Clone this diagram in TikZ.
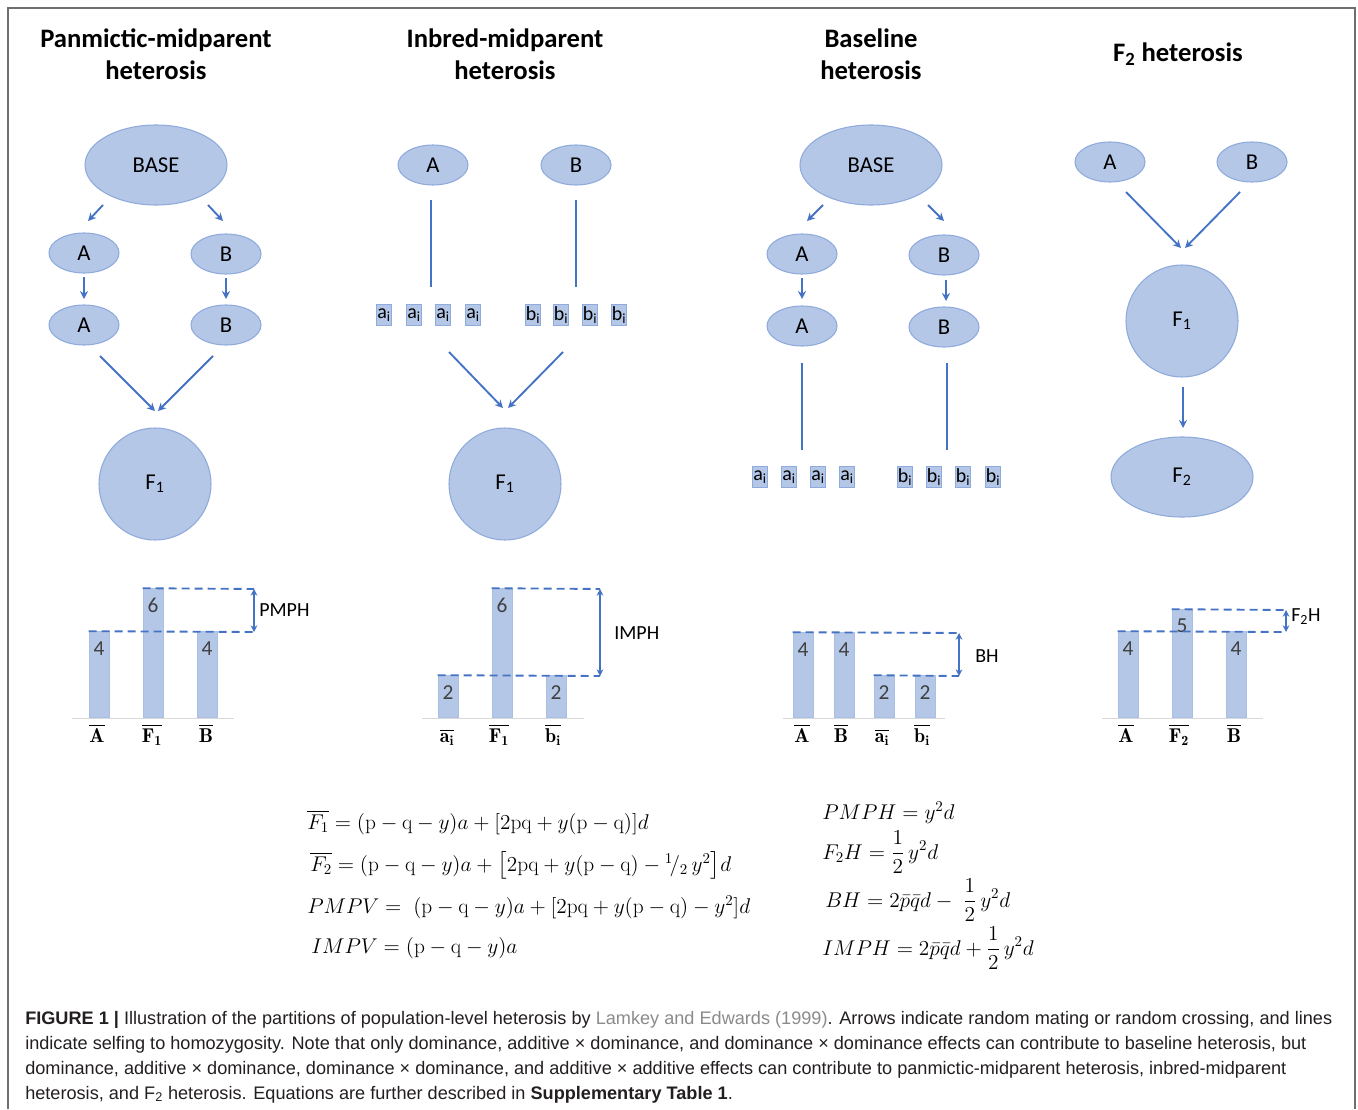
\documentclass[tikz,border=0pt]{standalone}
\usepackage{fix-cm}
\usepackage{amsmath}
\usepackage{fontspec}
\usetikzlibrary{shapes.geometric,arrows.meta,calc}
\newfontfamily\carlito{Carlito}
\newfontfamily\capfont{Liberation Sans}
\definecolor{ellF}{HTML}{B4C7E7}
\definecolor{ellB}{HTML}{8FAADC}
\definecolor{arrC}{HTML}{4472C4}
\definecolor{barB}{HTML}{A9BFE6}
\definecolor{numC}{HTML}{404040}
\definecolor{capC}{HTML}{231F20}
\definecolor{refC}{HTML}{8A8A8A}
\definecolor{frameC}{HTML}{6E6E6E}
\begin{document}
\begin{tikzpicture}[x=0.75pt,y=-0.75pt,
  lbl/.style={font=\carlito\fontsize{17}{20}\selectfont},
  ell/.style={ellipse,draw=ellB,fill=ellF,line width=0.8pt,inner sep=0pt,lbl},
  bigell/.style={ell,minimum width=106.5pt,minimum height=60pt},
  smell/.style={ell,minimum width=52.5pt,minimum height=30pt},
  circ/.style={circle,draw=ellB,fill=ellF,line width=0.8pt,inner sep=0pt,minimum size=84pt,lbl},
  arr/.style={draw=arrC,line width=1.4pt,-{Stealth[length=6pt,width=6pt]}},
  selfln/.style={draw=arrC,line width=1.4pt},
  ibox/.style={rectangle,draw=ellB,fill=ellF,line width=0.6pt,minimum width=11pt,minimum height=15.75pt,inner sep=0pt,font=\carlito\fontsize{15}{15}\selectfont},
  barn/.style={rectangle,fill=ellF,draw=barB,line width=0.6pt,minimum width=15pt,inner sep=0pt,anchor=south},
  num/.style={font=\carlito\fontsize{16}{16}\selectfont,text=numC,inner sep=0pt},
  blab/.style={font=\fontsize{15}{15}\selectfont,anchor=base,inner sep=0pt},
  hdash/.style={draw=arrC,line width=1.4pt,dash pattern=on 6pt off 3.75pt},
  darr/.style={draw=arrC,line width=1.1pt,{Stealth[length=5pt,width=5pt]}-{Stealth[length=5pt,width=5pt]}},
  axisln/.style={draw=black!15,line width=0.75pt},
  clab/.style={font=\carlito\fontsize{15}{15}\selectfont,anchor=west,inner sep=0pt},
  title/.style={font=\carlito\bfseries\fontsize{20}{24}\selectfont,align=center},
  eq/.style={font=\fontsize{16}{19}\selectfont,anchor=base west,inner sep=0pt},
  captxt/.style={font=\capfont\fontsize{13.6}{16}\selectfont,text=capC,anchor=base west,inner sep=0pt},
]
\useasboundingbox (0,0) rectangle (1358,1109);
\draw[frameC,line width=1pt] (8,1109) -- (8,8) -- (1355,8) -- (1355,1109);

% ---------- titles
\node[title] (t1) at (156,54) {Panmictic-midparent\\heterosis};
\node[title] (t2) at (505,54) {Inbred-midparent\\heterosis};
\node[title] (t3) at (871,54) {Baseline\\heterosis};
\node[title] (t4) at (1178,54) {F\textsubscript{2} heterosis};

% ---------- column 1
\node[bigell] (base1) at (156,165) {BASE};
\node[smell] (a1) at (84,253) {A};
\node[smell] (b1) at (226,254) {B};
\node[smell] (a1s) at (84,325) {A};
\node[smell] (b1s) at (226,325) {B};
\node[circ] (f1a) at (155,484) {F\textsubscript{1}};
\draw[arr] ($(base1)+(-53,40)$) -- ($(a1)+(4,-32)$);
\draw[arr] ($(base1)+(52,40)$) -- ($(b1)+(-3,-33)$);
\draw[arr] ($(a1)+(0,24)$) -- ($(a1s)+(0,-26)$);
\draw[arr] ($(b1)+(0,24)$) -- ($(b1s)+(0,-26)$);
\draw[arr] ($(a1s)+(16,31)$) -- ($(f1a)+(0,-73)$);
\draw[arr] ($(b1s)+(-13,31)$) -- ($(f1a)+(3,-73)$);

% ---------- column 2
\node[smell] (a2) at (433,165) {A};
\node[smell] (b2) at (576,165) {B};
\foreach \i/\xx in {1/384,2/414,3/443,4/473}{\node[ibox] (ai2\i) at (\xx,315) {a\textsubscript{i}};}
\foreach \i/\xx in {1/533,2/561,3/590,4/619}{\node[ibox] (bi2\i) at (\xx,315) {b\textsubscript{i}};}
\node[circ] (f1b) at (505,484) {F\textsubscript{1}};
\draw[selfln] ($(a2)+(-2,35)$) -- ($(a2)+(-2,122)$);
\draw[selfln] ($(b2)+(0,35)$) -- ($(b2)+(0,122)$);
\draw[arr] ($(f1b)+(-56,-132)$) -- ($(f1b)+(-2,-76)$);
\draw[arr] ($(f1b)+(58,-132)$) -- ($(f1b)+(3,-76)$);

% ---------- column 3
\node[bigell] (base3) at (871,165) {BASE};
\node[smell] (a3) at (802,254) {A};
\node[smell] (b3) at (944,255) {B};
\node[smell] (a3s) at (802,326) {A};
\node[smell] (b3s) at (944,327) {B};
\foreach \i/\xx in {1/760,2/789,3/818,4/847}{\node[ibox] (ai3\i) at (\xx,477) {a\textsubscript{i}};}
\foreach \i/\xx in {1/905,2/934,3/963,4/993}{\node[ibox] (bi3\i) at (\xx,477) {b\textsubscript{i}};}
\draw[arr] ($(base3)+(-48,40)$) -- ($(a3)+(5,-33)$);
\draw[arr] ($(base3)+(57,40)$) -- ($(b3)+(0,-34)$);
\draw[arr] ($(a3)+(0,24)$) -- ($(a3s)+(0,-27)$);
\draw[arr] ($(b3)+(2,25)$) -- ($(b3s)+(2,-26)$);
\draw[selfln] ($(a3s)+(0,37)$) -- ($(a3s)+(0,124)$);
\draw[selfln] ($(b3s)+(3,36)$) -- ($(b3s)+(3,123)$);

% ---------- column 4
\node[smell] (a4) at (1110,162) {A};
\node[smell] (b4) at (1252,162) {B};
\node[circ] (f1d) at (1182,321) {F\textsubscript{1}};
\node[bigell] (f2d) at (1182,477) {F\textsubscript{2}};
\draw[arr] ($(a4)+(16,30)$) -- ($(f1d)+(-1,-73)$);
\draw[arr] ($(b4)+(-12,30)$) -- ($(f1d)+(3,-73)$);
\draw[arr] ($(f1d)+(1,66)$) -- ($(f2d)+(1,-49)$);

% ---------- chart 1
\draw[axisln] (72,718) -- (234,718);
\node[barn,minimum height=64.5pt] (c1a) at (99,718) {};
\node[barn,minimum height=96.75pt] (c1f) at (153,718) {};
\node[barn,minimum height=64.5pt] (c1b) at (207,718) {};
\node[num] (c1an) at ($(c1a.north)+(0,17)$) {4};
\node[num] (c1fn) at ($(c1f.north)+(0,17)$) {6};
\node[num] (c1bn) at ($(c1b.north)+(0,17)$) {4};
\coordinate (pmT) at (254,589);
\coordinate (pmB) at (254,632);
\draw[hdash] (c1f.north west) -- (pmT);
\draw[hdash] (c1a.north west) -- (pmB);
\draw[darr] (pmT) -- (pmB);
\node[clab] (pmph) at (259,610) {PMPH};
\node[blab] (l1a) at (97,742) {$\overline{\mathbf{A}}$};
\node[blab] (l1f) at (152,742) {$\overline{\mathbf{F}_{\mathbf{1}}}$};
\node[blab] (l1b) at (206,742) {$\overline{\mathbf{B}}$};

% ---------- chart 2
\draw[axisln] (422,718) -- (584,718);
\node[barn,minimum height=31.5pt] (c2a) at (448,718) {};
\node[barn,minimum height=96.75pt] (c2f) at (502,718) {};
\node[barn,minimum height=31.5pt] (c2b) at (556,718) {};
\node[num] (c2an) at ($(c2a.north)+(0,17)$) {2};
\node[num] (c2fn) at ($(c2f.north)+(0,17)$) {6};
\node[num] (c2bn) at ($(c2b.north)+(0,17)$) {2};
\coordinate (imT) at (600,589);
\coordinate (imB) at (600,676);
\draw[hdash] (c2f.north west) -- (imT);
\draw[hdash] (c2a.north west) -- (imB);
\draw[darr] (imT) -- (imB);
\node[clab] (imph) at (614,633) {IMPH};
\node[blab] (l2a) at (447,742) {$\overline{\mathbf{a}_{\mathbf{i}}}$};
\node[blab] (l2f) at (499,742) {$\overline{\mathbf{F}_{\mathbf{1}}}$};
\node[blab] (l2b) at (553,742) {$\overline{\mathbf{b}_{\mathbf{i}}}$};

% ---------- chart 3
\draw[axisln] (783,718) -- (945,718);
\node[barn,minimum height=63.75pt] (c3a) at (803,718) {};
\node[barn,minimum height=63.75pt] (c3b) at (844,718) {};
\node[barn,minimum height=31.5pt] (c3c) at (884,718) {};
\node[barn,minimum height=31.5pt] (c3d) at (925,718) {};
\node[num] (c3an) at ($(c3a.north)+(0,17)$) {4};
\node[num] (c3bn) at ($(c3b.north)+(0,17)$) {4};
\node[num] (c3cn) at ($(c3c.north)+(0,17)$) {2};
\node[num] (c3dn) at ($(c3d.north)+(0,17)$) {2};
\coordinate (bhT) at (959,633);
\coordinate (bhB) at (959,676);
\draw[hdash] (c3a.north west) -- (bhT);
\draw[hdash] (c3c.north west) -- (bhB);
\draw[darr] (bhT) -- (bhB);
\node[clab] (bhl) at (975,656) {BH};
\node[blab] (l3a) at (802,742) {$\overline{\mathbf{A}}$};
\node[blab] (l3b) at (841,742) {$\overline{\mathbf{B}}$};
\node[blab] (l3c) at (882,742) {$\overline{\mathbf{a}_{\mathbf{i}}}$};
\node[blab] (l3d) at (922,742) {$\overline{\mathbf{b}_{\mathbf{i}}}$};

% ---------- chart 4
\draw[axisln] (1102,718) -- (1263,718);
\node[barn,minimum height=64.5pt] (c4a) at (1128,718) {};
\node[barn,minimum height=81pt] (c4f) at (1182,718) {};
\node[barn,minimum height=64.5pt] (c4b) at (1236,718) {};
\node[num] (c4an) at ($(c4a.north)+(0,17)$) {4};
\node[num] (c4fn) at ($(c4f.north)+(0,17)$) {5};
\node[num] (c4bn) at ($(c4b.north)+(0,17)$) {4};
\coordinate (f2T) at (1286,610);
\coordinate (f2B) at (1286,632);
\draw[hdash] (c4f.north west) -- (f2T);
\draw[hdash] (c4a.north west) -- (f2B);
\draw[darr] (f2T) -- (f2B);
\node[clab] (f2hl) at (1291,617) {F\textsubscript{2}H};
\node[blab] (l4a) at (1126,742) {$\overline{\mathbf{A}}$};
\node[blab] (l4f) at (1179,742) {$\overline{\mathbf{F}_{\mathbf{2}}}$};
\node[blab] (l4b) at (1234,742) {$\overline{\mathbf{B}}$};

% ---------- equations
\node[eq] (e1) at (307,829) {$\overline{F_1} = (\mathrm{p}-\mathrm{q}-y)a + [2\mathrm{pq} + y(\mathrm{p}-\mathrm{q})]d$};
\node[eq] (e2) at (310,871) {$\overline{F_2} = (\mathrm{p}-\mathrm{q}-y)a + \bigl[2\mathrm{pq} + y(\mathrm{p}-\mathrm{q}) - {}^{1}\!/_{2}\, y^2\bigr]d$};
\node[eq] (e3) at (307,913) {$PMPV =\;(\mathrm{p}-\mathrm{q}-y)a + [2\mathrm{pq} + y(\mathrm{p}-\mathrm{q}) - y^2]d$};
\node[eq] (e4) at (311,953) {$IMPV = (\mathrm{p}-\mathrm{q}-y)a$};

\node[eq] (e5) at (822,819) {$PMPH = y^2 d$};
\node[eq] (e6) at (822,859) {$\displaystyle F_2H = \frac{1}{2}\,y^2 d$};
\node[eq] (e7) at (825,907) {$\displaystyle BH = 2\bar{p}\bar{q}d - \;\frac{1}{2}\,y^2 d$};
\node[eq] (e8) at (822,955) {$\displaystyle IMPH = 2\bar{p}\bar{q}d + \frac{1}{2}\,y^2 d$};

% ---------- caption
\node[captxt] (cap1) at (25,1024) {{\bfseries FIGURE 1 |} Illustration of the partitions of population-level heterosis by \textcolor{refC}{Lamkey and Edwards (1999)}. Arrows indicate random mating or random crossing, and lines};
\node[captxt] (cap2) at (25,1049) {indicate selfing to homozygosity. Note that only dominance, additive × dominance, and dominance × dominance effects can contribute to baseline heterosis, but};
\node[captxt] (cap3) at (25,1074) {dominance, additive × dominance, dominance × dominance, and additive × additive effects can contribute to panmictic-midparent heterosis, inbred-midparent};
\node[captxt] (cap4) at (25,1099) {heterosis, and F\textsubscript{2} heterosis. Equations are further described in {\bfseries Supplementary Table 1}.};
\end{tikzpicture}
\end{document}
